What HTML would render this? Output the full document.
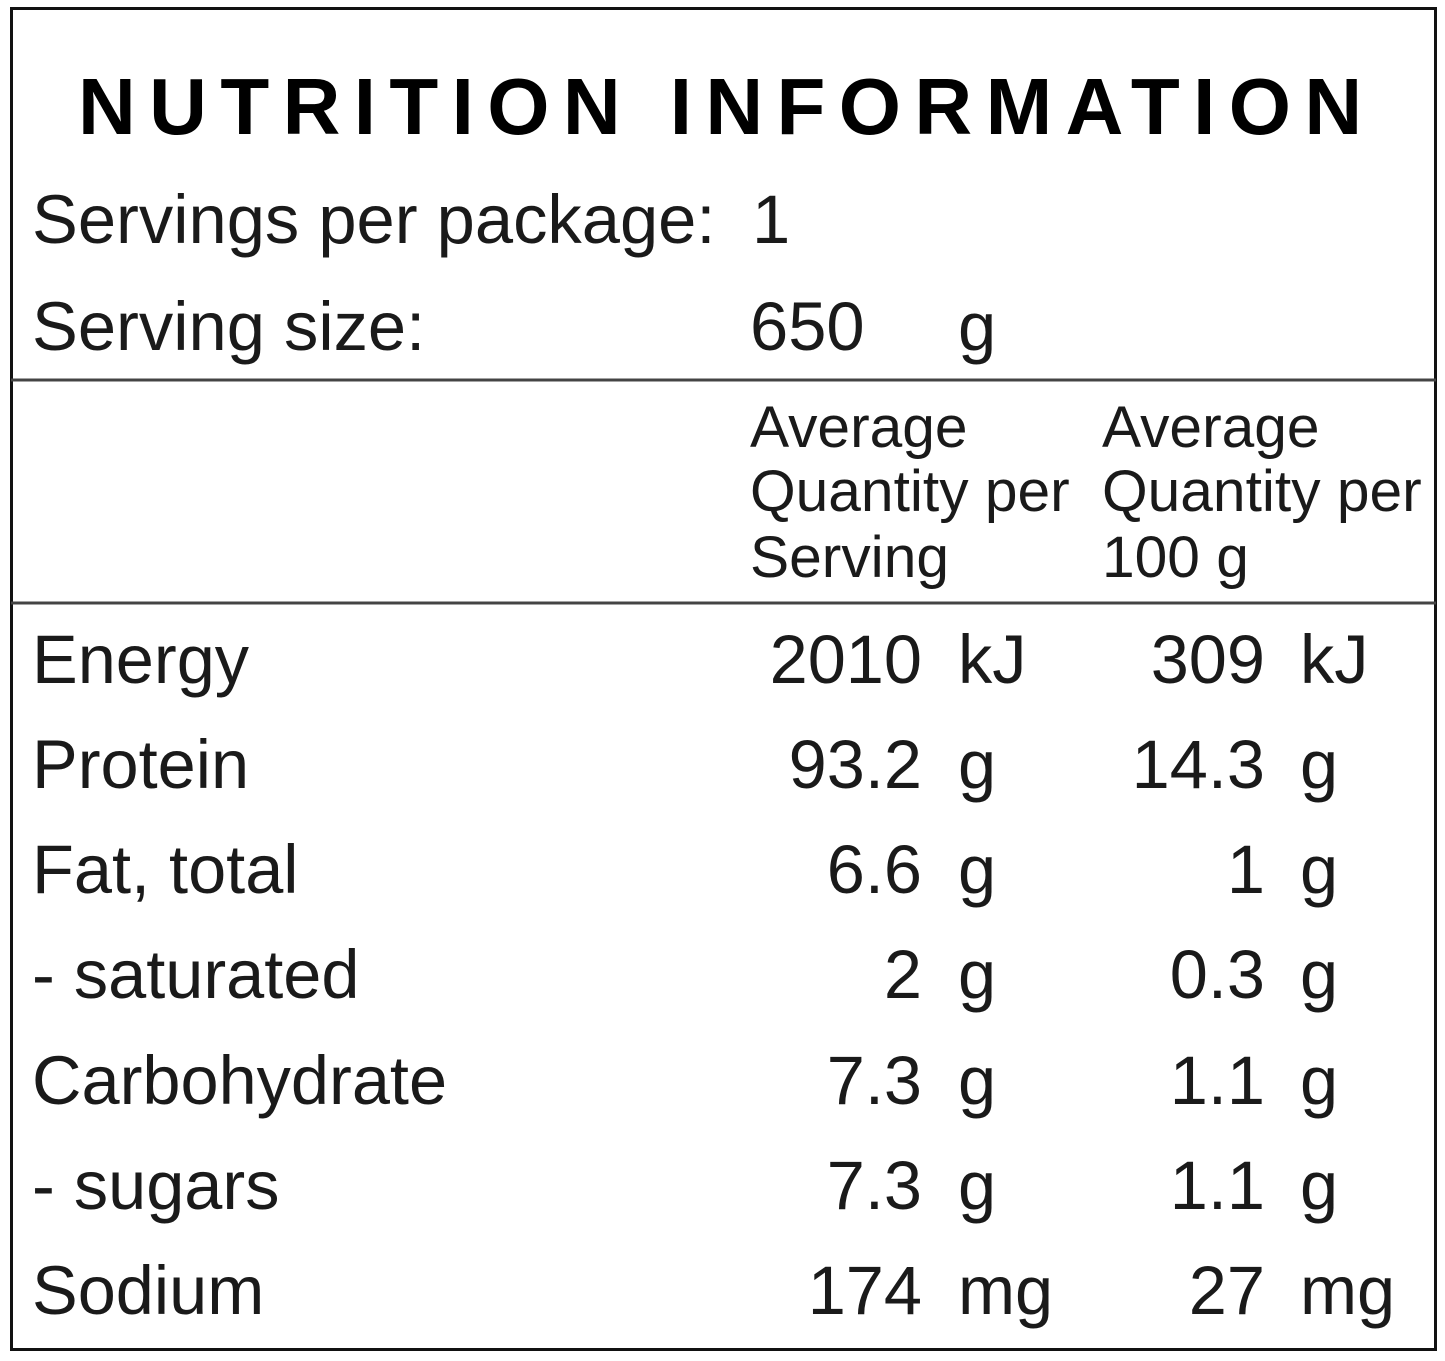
<!DOCTYPE html>
<html><head><meta charset="utf-8"><style>
html,body{margin:0;padding:0;background:#fff;}
svg{display:block;}
text{font-family:"Liberation Sans",Arial,sans-serif;fill:#1a1a1a;}
</style></head><body>
<svg width="1445" height="1361" viewBox="0 0 1445 1361" xmlns="http://www.w3.org/2000/svg">
<rect x="11.5" y="8.5" width="1424" height="1341" fill="none" stroke="#111" stroke-width="3"/>
<line x1="11" y1="380" x2="1436" y2="380" stroke="#444" stroke-width="3"/>
<line x1="11" y1="603" x2="1436" y2="603" stroke="#444" stroke-width="3"/>
<text x="78" y="134" font-size="80" font-weight="bold" letter-spacing="13.4" style="fill:#000">NUTRITION INFORMATION</text>
<g font-size="68.7">
<text x="32" y="243">Servings per package:</text>
<text x="752" y="243">1</text>
<text x="32" y="350">Serving size:</text>
<text x="750" y="350">650</text>
<text x="958" y="350">g</text>
</g>
<g font-size="58.7">
<text x="750" y="447">Average</text>
<text x="750" y="511">Quantity per</text>
<text x="750" y="577">Serving</text>
<text x="1102" y="447">Average</text>
<text x="1102" y="511">Quantity per</text>
<text x="1102" y="577">100 g</text>
</g>
<g font-size="68.5">
<text x="32" y="683">Energy</text>
<text x="32" y="788">Protein</text>
<text x="32" y="893">Fat, total</text>
<text x="32" y="998">- saturated</text>
<text x="32" y="1104">Carbohydrate</text>
<text x="32" y="1209">- sugars</text>
<text x="32" y="1314">Sodium</text>
<g text-anchor="end">
<text x="922" y="683">2010</text>
<text x="922" y="788">93.2</text>
<text x="922" y="893">6.6</text>
<text x="922" y="998">2</text>
<text x="922" y="1104">7.3</text>
<text x="922" y="1209">7.3</text>
<text x="922" y="1314">174</text>
<text x="1265" y="683">309</text>
<text x="1265" y="788">14.3</text>
<text x="1265" y="893">1</text>
<text x="1265" y="998">0.3</text>
<text x="1265" y="1104">1.1</text>
<text x="1265" y="1209">1.1</text>
<text x="1265" y="1314">27</text>
</g>
<text x="958" y="683">kJ</text>
<text x="958" y="788">g</text>
<text x="958" y="893">g</text>
<text x="958" y="998">g</text>
<text x="958" y="1104">g</text>
<text x="958" y="1209">g</text>
<text x="958" y="1314">mg</text>
<text x="1300" y="683">kJ</text>
<text x="1300" y="788">g</text>
<text x="1300" y="893">g</text>
<text x="1300" y="998">g</text>
<text x="1300" y="1104">g</text>
<text x="1300" y="1209">g</text>
<text x="1300" y="1314">mg</text>
</g>
</svg>
</body></html>
